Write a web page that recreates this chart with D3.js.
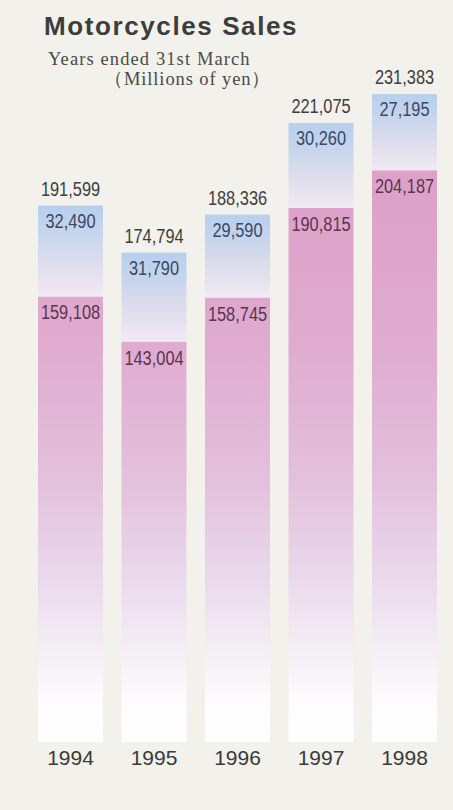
<!DOCTYPE html>
<html>
<head>
<meta charset="utf-8">
<script src="https://cdn.jsdelivr.net/npm/d3@7"></script>
<style>
  html, body { margin: 0; padding: 0; background: #f2f1eb; }
  svg { display: block; }
</style>
</head>
<body>
<div id="chart"></div>
<script>
// ---- data ----
const years = ["1994", "1995", "1996", "1997", "1998"];
const domesticVals = [159108, 143004, 158745, 190815, 204187];   // pink (lower) segment
const exportVals = [32490, 31790, 29590, 30260, 27195];         // blue (upper) segment
const totalVals = [191599, 174794, 188336, 221075, 231383];
const titleText = "Motorcycles  Sales";
const subtitle1 = "Years ended 31st March";
const subtitle2 = "（Millions of yen）";

const W = 453, H = 810;
const fmt = d3.format(",");

const svg = d3.select("#chart").append("svg")
  .attr("width", W).attr("height", H);

svg.append("rect").attr("width", W).attr("height", H).attr("fill", "#f2f1eb");

const defs = svg.append("defs");

// pink gradient in user space so all bars fade to white at the same height
const pg = defs.append("linearGradient").attr("id", "pinkGrad")
  .attr("gradientUnits", "userSpaceOnUse")
  .attr("x1", 0).attr("x2", 0).attr("y1", 170).attr("y2", 742);
[[0, "#dda0c8"], [0.3, "#dfabcf"], [0.55, "#e3c1dc"], [0.72, "#eadaec"],
 [0.85, "#f5f0f6"], [0.93, "#fdfcfd"], [1, "#ffffff"]]
  .forEach(([o, c]) => pg.append("stop").attr("offset", o).attr("stop-color", c));

const bg = defs.append("linearGradient").attr("id", "blueGrad")
  .attr("x1", 0).attr("x2", 0).attr("y1", 0).attr("y2", 1);
[[0, "#b6d0ee"], [0.3, "#c6d5ec"], [0.6, "#dcdcec"], [0.85, "#e9e4f0"], [1, "#efeaf3"]]
  .forEach(([o, c]) => bg.append("stop").attr("offset", o).attr("stop-color", c));

// ---- scales ----
const x = d3.scaleBand().domain(years).range([38, 437])
  .paddingInner(0.2216).paddingOuter(0);
const y = d3.scaleLinear().domain([0, 250000]).range([742, 42]);

const rows = years.map((yr, i) => ({
  year: yr, dom: domesticVals[i], exp: exportVals[i], total: totalVals[i]
}));

// ---- bars ----
const g = svg.append("g");
g.selectAll("rect.dom").data(rows).join("rect").attr("class", "dom")
  .attr("x", d => x(d.year)).attr("width", x.bandwidth())
  .attr("y", d => y(d.dom)).attr("height", d => y(0) - y(d.dom))
  .attr("fill", "url(#pinkGrad)");

g.selectAll("rect.exp").data(rows).join("rect").attr("class", "exp")
  .attr("x", d => x(d.year)).attr("width", x.bandwidth())
  .attr("y", d => y(d.dom + d.exp)).attr("height", d => y(d.dom) - y(d.dom + d.exp))
  .attr("fill", "url(#blueGrad)");

// ---- value labels (condensed) ----
const sx = 0.78;
function label(cls, data, yFn, text, color) {
  g.selectAll("g." + cls).data(data).join("g").attr("class", cls)
    .attr("transform", d => `translate(${x(d.year) + x.bandwidth() / 2},${yFn(d)})`)
    .append("text")
    .attr("transform", `scale(${sx},1)`)
    .attr("text-anchor", "middle")
    .attr("font-family", "'Liberation Sans', Arial, sans-serif")
    .attr("font-size", 21)
    .attr("fill", color)
    .text(text);
}
label("tot", rows, d => y(d.dom + d.exp) - 10, d => fmt(d.total), "#3e3e3e");
label("expl", rows, d => y(d.dom + d.exp) + 22, d => fmt(d.exp), "#3c4863");
label("doml", rows, d => y(d.dom) + 23, d => fmt(d.dom), "#5a3550");

// ---- x axis (year labels) ----
const xAxis = d3.axisBottom(x).tickSize(0).tickPadding(0);
const ax = svg.append("g").attr("transform", "translate(0,750)").call(xAxis);
ax.select(".domain").remove();
ax.selectAll("text")
  .attr("font-family", "'Liberation Sans', Arial, sans-serif")
  .attr("font-size", 21)
  .attr("fill", "#3a3a3a")
  .attr("dy", "0.71em");

// ---- titles ----
svg.append("text").attr("x", 44).attr("y", 35)
  .attr("font-family", "'Liberation Sans', Arial, sans-serif")
  .attr("font-weight", "bold").attr("font-size", 26)
  .attr("letter-spacing", 1.6)
  .attr("fill", "#3d3d3d").text(titleText);

svg.append("text").attr("x", 48).attr("y", 65)
  .attr("font-family", "'Liberation Serif', 'Times New Roman', serif")
  .attr("font-size", 18.5).attr("letter-spacing", 1.1)
  .attr("fill", "#4a4a4a").text(subtitle1);

svg.append("text").attr("x", 104).attr("y", 85)
  .attr("font-family", "'Liberation Serif', 'Times New Roman', serif")
  .attr("font-size", 18.5).attr("letter-spacing", 0.9)
  .attr("fill", "#4a4a4a").text(subtitle2);
</script>
</body>
</html>
